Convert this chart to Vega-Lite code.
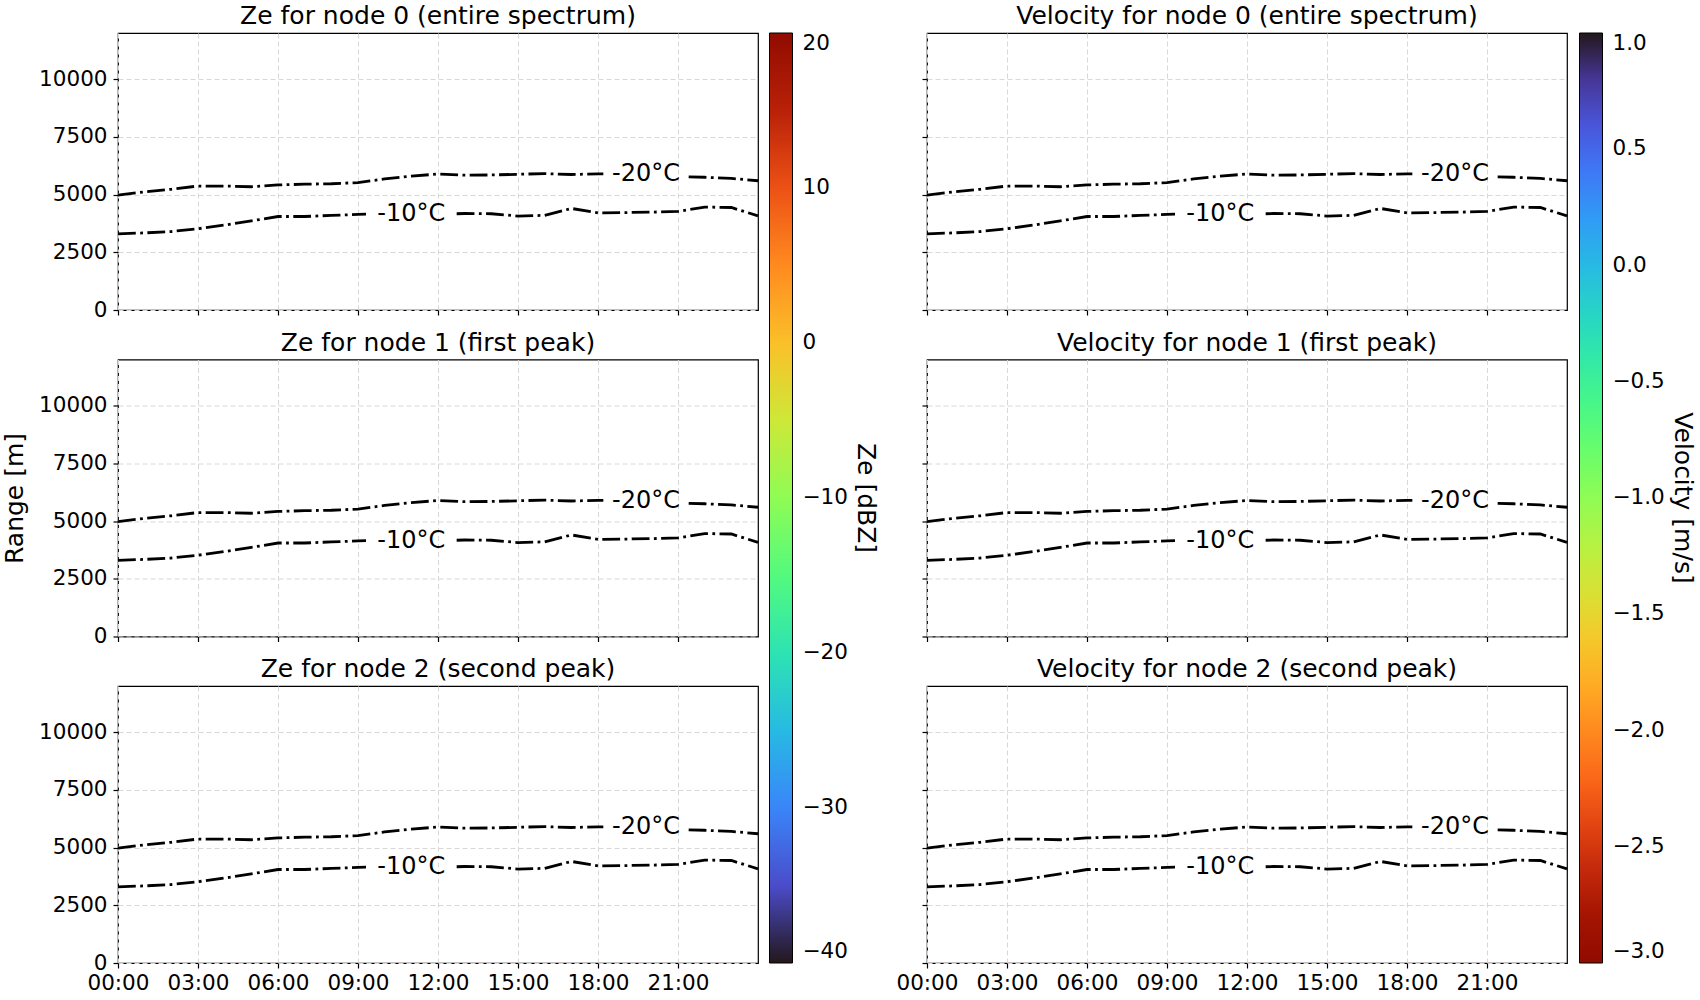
{
  "$schema": "https://vega.github.io/schema/vega-lite/v6.json",
  "padding": {"left": 2, "top": 3, "right": 5, "bottom": 5},
  "background": "white",
  "config": {
    "font": "DejaVu Sans",
    "view": {"stroke": "black", "strokeWidth": 1.2},
    "title": {"fontSize": 25, "font": "DejaVu Sans", "fontWeight": "normal", "offset": 4, "color": "black"},
    "axis": {
      "labelFont": "DejaVu Sans", "labelFontSize": 21.5, "labelColor": "black",
      "tickColor": "black", "tickSize": 5, "tickWidth": 1.2, "domain": false,
      "grid": true, "gridColor": "#d8d8d8", "gridDash": [5, 3], "gridWidth": 1,
      "labelFlush": false, "labelOverlap": false, "labelBound": false,
      "titleFont": "DejaVu Sans", "titleFontSize": 25, "titleFontWeight": "normal", "titleColor": "black", "titlePadding": 11
    },
    "axisX": {"labelPadding": 4},
    "axisY": {"labelPadding": 6, "format": "d"},
    "legend": {"labelFont": "DejaVu Sans", "titleFont": "DejaVu Sans"}
  },
  "datasets": {
    "contours": [
      {"isotherm": "-20°C", "seg": "-20a", "hour": 0, "range": 4980},
      {"isotherm": "-20°C", "seg": "-20a", "hour": 1, "range": 5120},
      {"isotherm": "-20°C", "seg": "-20a", "hour": 2, "range": 5230},
      {"isotherm": "-20°C", "seg": "-20a", "hour": 3, "range": 5370},
      {"isotherm": "-20°C", "seg": "-20a", "hour": 4, "range": 5370},
      {"isotherm": "-20°C", "seg": "-20a", "hour": 5, "range": 5340},
      {"isotherm": "-20°C", "seg": "-20a", "hour": 6, "range": 5420},
      {"isotherm": "-20°C", "seg": "-20a", "hour": 7, "range": 5450},
      {"isotherm": "-20°C", "seg": "-20a", "hour": 8, "range": 5470},
      {"isotherm": "-20°C", "seg": "-20a", "hour": 9, "range": 5520},
      {"isotherm": "-20°C", "seg": "-20a", "hour": 10, "range": 5680},
      {"isotherm": "-20°C", "seg": "-20a", "hour": 11, "range": 5800},
      {"isotherm": "-20°C", "seg": "-20a", "hour": 12, "range": 5890},
      {"isotherm": "-20°C", "seg": "-20a", "hour": 13, "range": 5840},
      {"isotherm": "-20°C", "seg": "-20a", "hour": 14, "range": 5850},
      {"isotherm": "-20°C", "seg": "-20a", "hour": 15, "range": 5880},
      {"isotherm": "-20°C", "seg": "-20a", "hour": 16, "range": 5910},
      {"isotherm": "-20°C", "seg": "-20a", "hour": 17, "range": 5870},
      {"isotherm": "-20°C", "seg": "-20a", "hour": 18, "range": 5900},
      {"isotherm": "-20°C", "seg": "-20a", "hour": 18.2, "range": 5900},
      {"isotherm": "-20°C", "seg": "-20b", "hour": 21.4, "range": 5770},
      {"isotherm": "-20°C", "seg": "-20b", "hour": 22, "range": 5750},
      {"isotherm": "-20°C", "seg": "-20b", "hour": 23, "range": 5700},
      {"isotherm": "-20°C", "seg": "-20b", "hour": 24, "range": 5600},
      {"isotherm": "-10°C", "seg": "-10a", "hour": 0, "range": 3300},
      {"isotherm": "-10°C", "seg": "-10a", "hour": 1, "range": 3340},
      {"isotherm": "-10°C", "seg": "-10a", "hour": 2, "range": 3400},
      {"isotherm": "-10°C", "seg": "-10a", "hour": 3, "range": 3520},
      {"isotherm": "-10°C", "seg": "-10a", "hour": 4, "range": 3680},
      {"isotherm": "-10°C", "seg": "-10a", "hour": 5, "range": 3860},
      {"isotherm": "-10°C", "seg": "-10a", "hour": 6, "range": 4050},
      {"isotherm": "-10°C", "seg": "-10a", "hour": 7, "range": 4050},
      {"isotherm": "-10°C", "seg": "-10a", "hour": 8, "range": 4100},
      {"isotherm": "-10°C", "seg": "-10a", "hour": 9, "range": 4140},
      {"isotherm": "-10°C", "seg": "-10a", "hour": 9.3, "range": 4150},
      {"isotherm": "-10°C", "seg": "-10b", "hour": 12.7, "range": 4170},
      {"isotherm": "-10°C", "seg": "-10b", "hour": 13, "range": 4180},
      {"isotherm": "-10°C", "seg": "-10b", "hour": 14, "range": 4170},
      {"isotherm": "-10°C", "seg": "-10b", "hour": 15, "range": 4070},
      {"isotherm": "-10°C", "seg": "-10b", "hour": 16, "range": 4100},
      {"isotherm": "-10°C", "seg": "-10b", "hour": 17, "range": 4400},
      {"isotherm": "-10°C", "seg": "-10b", "hour": 18, "range": 4210},
      {"isotherm": "-10°C", "seg": "-10b", "hour": 19, "range": 4220},
      {"isotherm": "-10°C", "seg": "-10b", "hour": 20, "range": 4240},
      {"isotherm": "-10°C", "seg": "-10b", "hour": 21, "range": 4270},
      {"isotherm": "-10°C", "seg": "-10b", "hour": 22, "range": 4460},
      {"isotherm": "-10°C", "seg": "-10b", "hour": 23, "range": 4440},
      {"isotherm": "-10°C", "seg": "-10b", "hour": 24, "range": 4080}
    ],
    "labels": [
      {"label": "-10°C", "hour": 11.0, "range": 4150},
      {"label": "-20°C", "hour": 19.8, "range": 5890}
    ],
    "zeRange": [{"Ze": -40}, {"Ze": 20}],
    "velRange": [{"Velocity": -3}, {"Velocity": 1}]
  },
  "hconcat": [
    {
      "spacing": 49.5,
      "bounds": "flush",
      "vconcat": [
        {
          "title": "Ze for node 0 (entire spectrum)", "width": 640, "height": 277,
          "layer": [
            {"data": {"name": "contours"}, "mark": {"type": "line", "color": "black", "strokeWidth": 2.8, "strokeDash": [17.8, 4.4, 2.8, 4.4], "strokeCap": "butt"},
             "encoding": {
               "x": {"field": "hour", "type": "quantitative", "scale": {"domain": [0, 24], "nice": false, "zero": false}, "axis": {"values": [0, 3, 6, 9, 12, 15, 18, 21], "labels": false, "title": null}},
               "y": {"field": "range", "type": "quantitative", "scale": {"domain": [0, 12000], "nice": false}, "axis": {"values": [0, 2500, 5000, 7500, 10000], "title": null}},
               "detail": {"field": "seg", "type": "nominal"}}},
            {"data": {"name": "labels"}, "mark": {"type": "text", "fontSize": 24, "color": "black"},
             "encoding": {"x": {"field": "hour", "type": "quantitative"}, "y": {"field": "range", "type": "quantitative"}, "text": {"field": "label"}}},
            {"data": {"name": "zeRange"}, "mark": {"type": "point", "size": 0, "strokeWidth": 0, "opacity": 1},
             "encoding": {"color": {"field": "Ze", "type": "quantitative", "scale": {"scheme": "turbo", "domain": [-40, 20]},
               "legend": {"title": "Ze [dBZ]", "orient": "none", "direction": "vertical", "legendX": 651.5, "legendY": 0, "gradientLength": 930, "gradientThickness": 23,
                 "values": [-40, -30, -20, -10, 0, 10, 20], "format": "d", "labelFontSize": 21.5, "labelColor": "black", "labelOffset": 10, "labelBaseline": "middle",
                 "gradientStrokeColor": "black", "gradientStrokeWidth": 1, "gradientOpacity": 1,
                 "titleFontSize": 25, "titleFontWeight": "normal", "titleColor": "black", "titleOrient": "right", "titleAngle": 270, "titleAnchor": "middle", "titlePadding": 5}}}}
          ]
        },
        {
          "title": "Ze for node 1 (first peak)", "width": 640, "height": 277,
          "layer": [
            {"data": {"name": "contours"}, "mark": {"type": "line", "color": "black", "strokeWidth": 2.8, "strokeDash": [17.8, 4.4, 2.8, 4.4], "strokeCap": "butt"},
             "encoding": {
               "x": {"field": "hour", "type": "quantitative", "scale": {"domain": [0, 24], "nice": false, "zero": false}, "axis": {"values": [0, 3, 6, 9, 12, 15, 18, 21], "labels": false, "title": null}},
               "y": {"field": "range", "type": "quantitative", "scale": {"domain": [0, 12000], "nice": false}, "axis": {"values": [0, 2500, 5000, 7500, 10000], "title": "Range [m]"}},
               "detail": {"field": "seg", "type": "nominal"}}},
            {"data": {"name": "labels"}, "mark": {"type": "text", "fontSize": 24, "color": "black"},
             "encoding": {"x": {"field": "hour", "type": "quantitative"}, "y": {"field": "range", "type": "quantitative"}, "text": {"field": "label"}}}
          ]
        },
        {
          "title": "Ze for node 2 (second peak)", "width": 640, "height": 277,
          "layer": [
            {"data": {"name": "contours"}, "mark": {"type": "line", "color": "black", "strokeWidth": 2.8, "strokeDash": [17.8, 4.4, 2.8, 4.4], "strokeCap": "butt"},
             "encoding": {
               "x": {"field": "hour", "type": "quantitative", "scale": {"domain": [0, 24], "nice": false, "zero": false}, "axis": {"values": [0, 3, 6, 9, 12, 15, 18, 21], "title": null, "labelExpr": "(datum.value < 10 ? '0' : '') + datum.value + ':00'"}},
               "y": {"field": "range", "type": "quantitative", "scale": {"domain": [0, 12000], "nice": false}, "axis": {"values": [0, 2500, 5000, 7500, 10000], "title": null}},
               "detail": {"field": "seg", "type": "nominal"}}},
            {"data": {"name": "labels"}, "mark": {"type": "text", "fontSize": 24, "color": "black"},
             "encoding": {"x": {"field": "hour", "type": "quantitative"}, "y": {"field": "range", "type": "quantitative"}, "text": {"field": "label"}}}
          ]
        }
      ]
    },
    {
      "spacing": 49.5,
      "bounds": "flush",
      "vconcat": [
        {
          "title": "Velocity for node 0 (entire spectrum)", "width": 640, "height": 277,
          "layer": [
            {"data": {"name": "contours"}, "mark": {"type": "line", "color": "black", "strokeWidth": 2.8, "strokeDash": [17.8, 4.4, 2.8, 4.4], "strokeCap": "butt"},
             "encoding": {
               "x": {"field": "hour", "type": "quantitative", "scale": {"domain": [0, 24], "nice": false, "zero": false}, "axis": {"values": [0, 3, 6, 9, 12, 15, 18, 21], "labels": false, "title": null}},
               "y": {"field": "range", "type": "quantitative", "scale": {"domain": [0, 12000], "nice": false}, "axis": {"values": [0, 2500, 5000, 7500, 10000], "labels": false, "title": null}},
               "detail": {"field": "seg", "type": "nominal"}}},
            {"data": {"name": "labels"}, "mark": {"type": "text", "fontSize": 24, "color": "black"},
             "encoding": {"x": {"field": "hour", "type": "quantitative"}, "y": {"field": "range", "type": "quantitative"}, "text": {"field": "label"}}},
            {"data": {"name": "velRange"}, "mark": {"type": "point", "size": 0, "strokeWidth": 0, "opacity": 1},
             "encoding": {"color": {"field": "Velocity", "type": "quantitative", "scale": {"scheme": "turbo", "reverse": true, "domain": [-3, 1]},
               "legend": {"title": "Velocity [m/s]", "orient": "none", "direction": "vertical", "legendX": 652.5, "legendY": 0, "gradientLength": 930, "gradientThickness": 23,
                 "values": [-3, -2.5, -2, -1.5, -1, -0.5, 0, 0.5, 1], "format": ".1f", "labelFontSize": 21.5, "labelColor": "black", "labelOffset": 10, "labelBaseline": "middle",
                 "gradientStrokeColor": "black", "gradientStrokeWidth": 1, "gradientOpacity": 1,
                 "titleFontSize": 25, "titleFontWeight": "normal", "titleColor": "black", "titleOrient": "right", "titleAngle": 270, "titleAnchor": "middle", "titlePadding": 5}}}}
          ]
        },
        {
          "title": "Velocity for node 1 (first peak)", "width": 640, "height": 277,
          "layer": [
            {"data": {"name": "contours"}, "mark": {"type": "line", "color": "black", "strokeWidth": 2.8, "strokeDash": [17.8, 4.4, 2.8, 4.4], "strokeCap": "butt"},
             "encoding": {
               "x": {"field": "hour", "type": "quantitative", "scale": {"domain": [0, 24], "nice": false, "zero": false}, "axis": {"values": [0, 3, 6, 9, 12, 15, 18, 21], "labels": false, "title": null}},
               "y": {"field": "range", "type": "quantitative", "scale": {"domain": [0, 12000], "nice": false}, "axis": {"values": [0, 2500, 5000, 7500, 10000], "labels": false, "title": null}},
               "detail": {"field": "seg", "type": "nominal"}}},
            {"data": {"name": "labels"}, "mark": {"type": "text", "fontSize": 24, "color": "black"},
             "encoding": {"x": {"field": "hour", "type": "quantitative"}, "y": {"field": "range", "type": "quantitative"}, "text": {"field": "label"}}}
          ]
        },
        {
          "title": "Velocity for node 2 (second peak)", "width": 640, "height": 277,
          "layer": [
            {"data": {"name": "contours"}, "mark": {"type": "line", "color": "black", "strokeWidth": 2.8, "strokeDash": [17.8, 4.4, 2.8, 4.4], "strokeCap": "butt"},
             "encoding": {
               "x": {"field": "hour", "type": "quantitative", "scale": {"domain": [0, 24], "nice": false, "zero": false}, "axis": {"values": [0, 3, 6, 9, 12, 15, 18, 21], "title": null, "labelExpr": "(datum.value < 10 ? '0' : '') + datum.value + ':00'"}},
               "y": {"field": "range", "type": "quantitative", "scale": {"domain": [0, 12000], "nice": false}, "axis": {"values": [0, 2500, 5000, 7500, 10000], "labels": false, "title": null}},
               "detail": {"field": "seg", "type": "nominal"}}},
            {"data": {"name": "labels"}, "mark": {"type": "text", "fontSize": 24, "color": "black"},
             "encoding": {"x": {"field": "hour", "type": "quantitative"}, "y": {"field": "range", "type": "quantitative"}, "text": {"field": "label"}}}
          ]
        }
      ]
    }
  ],
  "spacing": 17,
  "resolve": {"scale": {"color": "independent"}}
}
